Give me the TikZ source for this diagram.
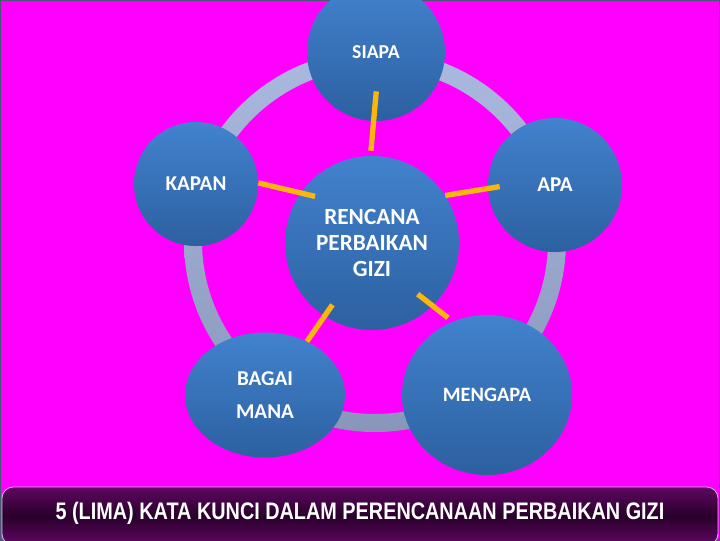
\documentclass[tikz,border=0pt]{standalone}
\usepackage{fontspec}
\setmainfont{Carlito}
\newfontfamily\barfont[FakeStretch=0.83]{Liberation Sans}
\usetikzlibrary{shapes.geometric}

\definecolor{slidebg}{RGB}{255,0,255}
\definecolor{framecol}{RGB}{70,86,116}
\definecolor{circtop}{RGB}{66,130,206}
\definecolor{circbot}{RGB}{44,96,160}
\definecolor{ringtop}{RGB}{170,186,222}
\definecolor{ringbot}{RGB}{136,150,186}
\definecolor{linkorange}{RGB}{250,182,12}
\definecolor{barpurple}{RGB}{96,6,98}
\definecolor{bardark}{RGB}{40,0,42}
\definecolor{baredge}{RGB}{200,190,215}

\tikzset{
  bubble/.style={circle, inner sep=0pt, top color=circtop, bottom color=circbot,
                 text=white, align=center},
  oval/.style={ellipse, inner sep=0pt, top color=circtop, bottom color=circbot,
               text=white, align=center},
  link/.style={draw=linkorange, line width=3.8pt},
}

\begin{document}
\begin{tikzpicture}[x=0.025cm, y=-0.025cm]
\useasboundingbox (0,0) rectangle (720,540);
\fill[slidebg] (0,0) rectangle (720,540);
\draw[framecol, line width=1.4pt] (0,0) rectangle (720,540);

% ring behind the bubbles
\path[top color=ringtop, bottom color=ringbot, even odd rule]
  (375,241) circle[radius=191] (375,241) circle[radius=173];

\node[bubble, minimum size=3.45cm, font=\bfseries\fontsize{14}{16}\selectfont] (siapa) at (376,52) {SIAPA};
\node[bubble, minimum size=3.1cm, font=\bfseries\fontsize{15}{18}\selectfont] (kapan) at (196,184) {KAPAN};
\node[bubble, minimum size=3.35cm, font=\bfseries\fontsize{15}{17}\selectfont] (apa) at (555,185) {APA};
\node[bubble, minimum size=4.35cm, font=\bfseries\fontsize{16.5}{18.4}\selectfont] (rencana) at (372,243) {RENCANA\\PERBAIKAN\\GIZI};
\node[oval, minimum width=4.0cm, minimum height=3.125cm, font=\bfseries\fontsize{15}{23.4}\selectfont] (bagai) at (265,395) {BAGAI\\MANA};
\node[oval, minimum width=4.25cm, minimum height=4.0cm, font=\bfseries\fontsize{14.5}{18}\selectfont] (mengapa) at (487,395) {MENGAPA};

% connectors
\draw[link, shorten <=-0.75cm, shorten >=0.125cm] (siapa.268) -- (rencana.91);
\draw[link, shorten >=-0.375cm] (kapan.1) -- (rencana.145);
\draw[link, shorten >=-0.3cm] (rencana.33) -- (apa.183);
\draw[link, shorten <=-0.35cm] (rencana.237) -- (bagai.52);
\draw[link, shorten <=-0.475cm, shorten >=0.15cm] (rencana.314) -- (mengapa.115);

% caption bar
\draw[baredge, line width=0.6pt, rounded corners=8pt, top color=barpurple,
      bottom color=barpurple, middle color=bardark] (2,487) rectangle (718,545);
\node[text=white, font=\barfont\bfseries\fontsize{17}{20}\selectfont] (caption) at (360,513)
  {5 (LIMA) KATA KUNCI DALAM PERENCANAAN PERBAIKAN GIZI};
\end{tikzpicture}
\end{document}
